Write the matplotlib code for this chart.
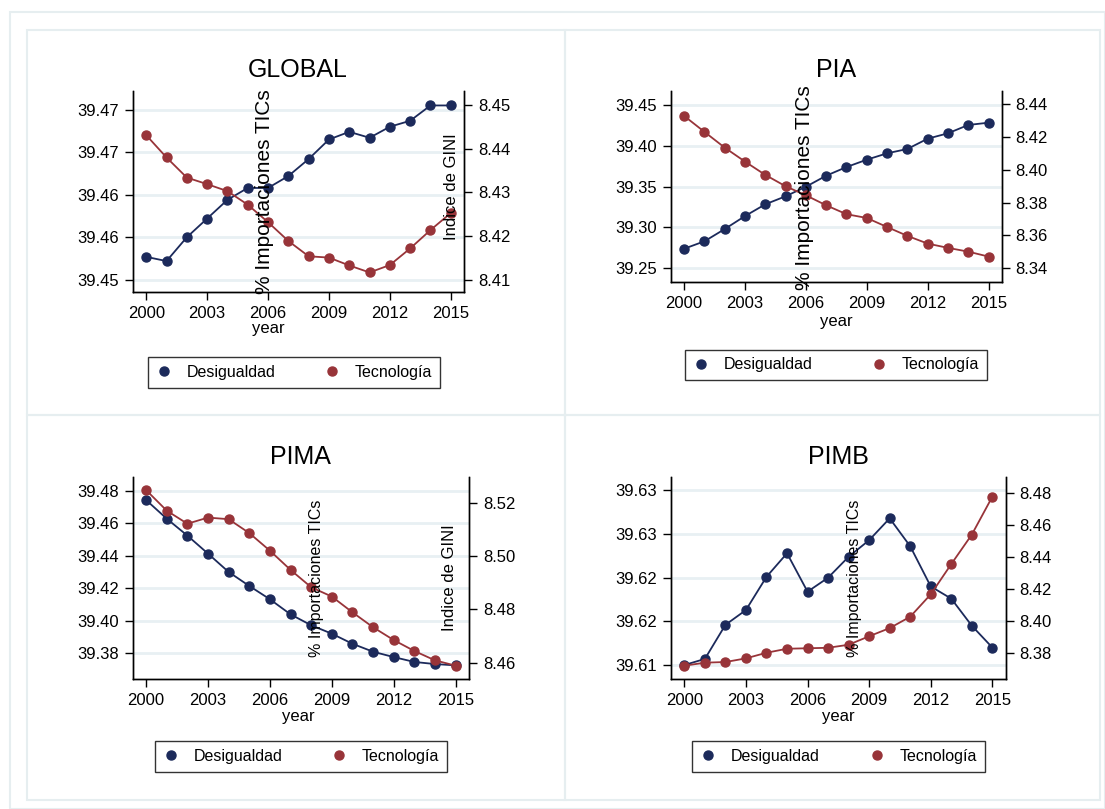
import matplotlib
matplotlib.use("Agg")
import matplotlib.pyplot as plt
from matplotlib.lines import Line2D
from matplotlib.patches import Rectangle

plt.rcParams['font.family'] = ['Liberation Sans', 'DejaVu Sans']

years = list(range(2000, 2016))
year_ticks = [2000, 2003, 2006, 2009, 2012, 2015]

# Desigualdad (left axis) and Tecnologia (right axis) per panel
global_desig = [39.4577, 39.4572, 39.4600, 39.4622, 39.4644, 39.4658, 39.4658, 39.4672,
                39.4692, 39.4715, 39.4724, 39.4717, 39.4730, 39.4737, 39.4755, 39.4755]
global_tec = [8.4431, 8.4380, 8.4334, 8.4319, 8.4303, 8.4272, 8.4232, 8.4189,
              8.4154, 8.4151, 8.4133, 8.4117, 8.4134, 8.4172, 8.4214, 8.4253]
pia_desig = [39.2740, 39.2831, 39.2981, 39.3140, 39.3284, 39.3382, 39.3499, 39.3634,
             39.3740, 39.3830, 39.3908, 39.3961, 39.4087, 39.4153, 39.4255, 39.4283]
pia_tec = [8.4327, 8.4230, 8.4134, 8.4049, 8.3968, 8.3899, 8.3844, 8.3783,
           8.3729, 8.3706, 8.3651, 8.3597, 8.3550, 8.3524, 8.3501, 8.3471]
pima_desig = [39.4742, 39.4627, 39.4523, 39.4412, 39.4299, 39.4213, 39.4131, 39.4038,
              39.3971, 39.3919, 39.3857, 39.3808, 39.3775, 39.3745, 39.3732, 39.3724]
pima_tec = [8.5247, 8.5170, 8.5121, 8.5144, 8.5138, 8.5086, 8.5020, 8.4948,
            8.4883, 8.4848, 8.4789, 8.4733, 8.4685, 8.4644, 8.4609, 8.4589]
pimb_desig = [39.6100, 39.6107, 39.6146, 39.6163, 39.6201, 39.6228, 39.6184, 39.6200,
              39.6224, 39.6243, 39.6268, 39.6236, 39.6190, 39.6176, 39.6145, 39.6120]
pimb_tec = [8.3719, 8.3738, 8.3742, 8.3765, 8.3800, 8.3825, 8.3828, 8.3831,
            8.3850, 8.3903, 8.3954, 8.4025, 8.4165, 8.4354, 8.4538, 8.4775]

titles = ['GLOBAL', 'PIA', 'PIMA', 'PIMB']
desig = [global_desig, pia_desig, pima_desig, pimb_desig]
tec = [global_tec, pia_tec, pima_tec, pimb_tec]

left_ticks = [[39.455, 39.460, 39.465, 39.470, 39.475],
              [39.25, 39.30, 39.35, 39.40, 39.45],
              [39.38, 39.40, 39.42, 39.44, 39.46, 39.48],
              [39.610, 39.615, 39.620, 39.625, 39.630]]
left_labels = [['39.45', '39.46', '39.46', '39.47', '39.47'],
               ['39.25', '39.30', '39.35', '39.40', '39.45'],
               ['39.38', '39.40', '39.42', '39.44', '39.46', '39.48'],
               ['39.61', '39.62', '39.62', '39.63', '39.63']]
right_ticks = [[8.41, 8.42, 8.43, 8.44, 8.45],
               [8.34, 8.36, 8.38, 8.40, 8.42, 8.44],
               [8.46, 8.48, 8.50, 8.52],
               [8.38, 8.40, 8.42, 8.44, 8.46, 8.48]]
left_lims = [(39.4536, 39.4772), (39.2336, 39.4671), (39.364, 39.4882), (39.6084, 39.6315)]
right_lims = [(8.4073, 8.4532), (8.3318, 8.4479), (8.4539, 8.5295), (8.3636, 8.4896)]

W, H = 1105, 809
NAVY = '#1c2a5b'
MAROON = '#983439'
FRAME = '#e6eef0'
GRID = '#e8f0f3'

fig = plt.figure(figsize=(W / 100, H / 100), dpi=100)
fig.patch.set_facecolor('white')


def fx(x):
    return x / W


def fy(y):
    return 1 - y / H


def rect_px(l, t, r, b):
    return [fx(l), fy(b), (r - l) / W, (b - t) / H]


# outer frames (Stata graph combine look)
fig.add_artist(Rectangle((fx(10), fy(809)), fx(1105) - fx(10), fy(12) - fy(809),
                         transform=fig.transFigure, fill=False, ec=FRAME, lw=1.5))
for (l, t, r, b) in [(27, 30, 565, 415), (565, 30, 1100, 415),
                     (27, 415, 565, 800), (565, 415, 1100, 800)]:
    fig.add_artist(Rectangle((fx(l), fy(b)), fx(r) - fx(l), fy(t) - fy(b),
                             transform=fig.transFigure, fill=False, ec=FRAME, lw=1.5))

plot_px = [(133, 91, 464, 291.7), (671, 91, 1001.7, 281.7),
           (132.7, 477.3, 469, 679), (671, 477.3, 1005.7, 679)]
title_pos = [(298, 70), (836, 70), (300, 457), (838, 457)]
year_pos = [(268, 328), (836, 322), (298, 716), (838, 716)]
tics_pos = [(264, 192, 15), (804, 188, 15), (316.7, 578, 11.5), (854, 578, 11.5)]
gini_pos = [(451, 186.5), None, (450, 577.5), None]
legend_box = [(148, 355, 440, 390), (685, 347, 987, 383),
              (155, 740, 447, 773), (692, 740, 985, 773)]

for i in range(4):
    ax = fig.add_axes(rect_px(*plot_px[i]))
    ax2 = ax.twinx()

    ax.set_axisbelow(True)
    ax.yaxis.grid(True, color=GRID, lw=2)
    ax.plot(years, desig[i], color=NAVY, marker='o', ms=6.5, lw=1.3)
    ax2.plot(years, tec[i], color=MAROON, marker='o', ms=6.5, lw=1.3)

    ax.set_xlim(1999.35, 2015.65)
    ax.set_xticks(year_ticks)
    ax.set_ylim(*left_lims[i])
    ax.set_yticks(left_ticks[i])
    ax.set_yticklabels(left_labels[i])
    ax2.set_ylim(*right_lims[i])
    ax2.set_yticks(right_ticks[i])
    ax2.set_yticklabels(['{:.2f}'.format(v) for v in right_ticks[i]])

    for a in (ax, ax2):
        a.spines['top'].set_visible(False)
        for s in ['left', 'right', 'bottom']:
            a.spines[s].set_linewidth(1.0)
            a.spines[s].set_color('black')
        a.tick_params(direction='out', length=6, width=1, labelsize=12, pad=4)

    fig.text(fx(title_pos[i][0]), fy(title_pos[i][1]), titles[i], ha='center', va='center',
             fontsize=18)
    fig.text(fx(year_pos[i][0]), fy(year_pos[i][1]), 'year', ha='center', va='center',
             fontsize=12)
    tx, ty, tfs = tics_pos[i]
    fig.text(fx(tx), fy(ty), '% Importaciones TICs', rotation=90, ha='center', va='center',
             fontsize=tfs)
    if gini_pos[i] is not None:
        fig.text(fx(gini_pos[i][0]), fy(gini_pos[i][1]), 'Indice de GINI', rotation=90,
                 ha='center', va='center', fontsize=12)

    l, t, r, b = legend_box[i]
    handles = [Line2D([], [], color=NAVY, marker='o', ls='none', ms=6.5),
               Line2D([], [], color=MAROON, marker='o', ls='none', ms=6.5)]
    leg = fig.legend(handles, ['Desigualdad', 'Tecnología'], loc='center',
                     bbox_to_anchor=rect_px(l, t, r, b), bbox_transform=fig.transFigure,
                     ncol=2, fontsize=11.5, frameon=True, fancybox=False, mode='expand',
                     borderaxespad=0, handletextpad=0.9, columnspacing=2.0,
                     borderpad=0.5, handlelength=1.0)
    leg.get_frame().set_edgecolor('black')
    leg.get_frame().set_linewidth(1.0)

fig.savefig('out.png', dpi=100)
